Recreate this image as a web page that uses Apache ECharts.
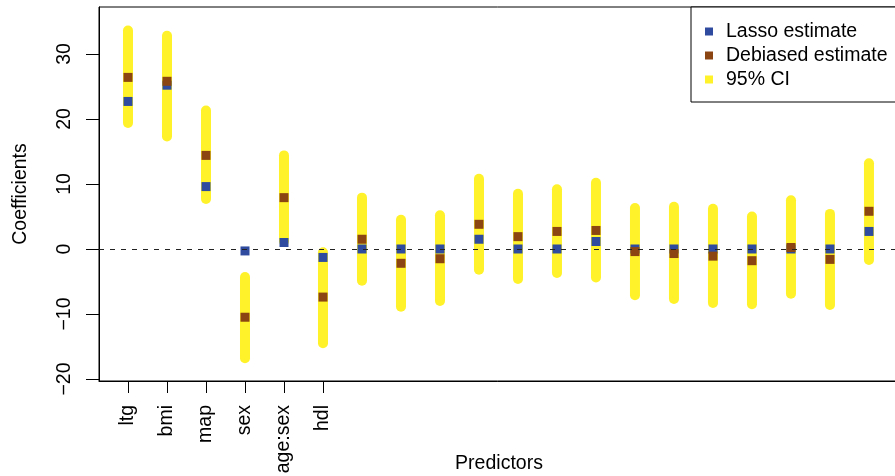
<!DOCTYPE html>
<html>
<head>
<meta charset="utf-8">
<script src="https://cdn.jsdelivr.net/npm/echarts@6/dist/echarts.min.js"></script>
<style>
html,body{margin:0;padding:0;background:#fff;}
#chart{width:895px;height:476px;}
</style>
</head>
<body>
<div id="chart"></div>
<script>
// Predictor positions 1..20; only the first six are labelled
const tickLabels = ["ltg", "bmi", "map", "sex", "age:sex", "hdl"];
const positions = [1,2,3,4,5,6,7,8,9,10,11,12,13,14,15,16,17,18,19,20];
const lassoEst = [22.7, 25.2, 9.6, -0.3, 1.0, -1.3, 0, 0, 0, 1.5, 0, 0, 1.15, 0, 0, 0, 0, 0, 0, 2.7];
const debiasedEst = [26.4, 25.8, 14.4, -10.5, 7.9, -7.4, 1.5, -2.2, -1.5, 3.8, 1.9, 2.7, 2.85, -0.4, -0.7, -1.1, -1.8, 0.23, -1.6, 5.8];
const ciLow = [19.4, 17.3, 7.7, -16.8, 1.2, -14.5, -4.9, -8.9, -8.0, -3.2, -4.6, -3.7, -4.4, -7.1, -7.7, -8.3, -8.5, -6.9, -8.6, -1.7];
const ciHigh = [33.6, 32.8, 21.3, -4.3, 14.4, -0.5, 7.9, 4.5, 5.2, 10.8, 8.5, 9.2, 10.2, 6.3, 6.5, 6.2, 5.0, 7.5, 5.4, 13.2];
const yTicks = [-20, -10, 0, 10, 20, 30];
const xTicks = [1, 2, 3, 4, 5, 6];

const FONT = '"Liberation Sans", Arial, sans-serif';
const FS = 19.5;
const C_LASSO = '#2E4B9F';
const C_DEB = '#8B4513';
const C_CI = '#FFF22A';

const chart = echarts.init(document.getElementById('chart'), null, {renderer: 'canvas'});

const ciData = positions.map((p, i) => [p, ciLow[i], ciHigh[i]]);
const lassoData = positions.map((p, i) => [p, lassoEst[i]]);
const debData = positions.map((p, i) => [p, debiasedEst[i]]);

chart.setOption({
  animation: false,
  backgroundColor: '#fff',
  textStyle: {fontFamily: FONT},
  grid: {left: 99, top: 7, width: 800, height: 374, show: true, borderColor: '#000', borderWidth: 1,
    backgroundColor: 'transparent', containLabel: false, outerBoundsMode: 'none'},
  legend: {
    left: 691, top: 7,
    orient: 'vertical',
    backgroundColor: '#fff',
    borderColor: '#000', borderWidth: 1,
    padding: [14.5, 20, 12.5, 14],
    itemGap: 4,
    itemWidth: 8, itemHeight: 8,
    textStyle: {fontFamily: FONT, fontSize: FS, color: '#000', padding: [0, 0, 0, 8]},
    data: [
      {name: 'Lasso estimate', icon: 'rect'},
      {name: 'Debiased estimate', icon: 'rect'},
      {name: '95% CI', icon: 'rect'}
    ]
  },
  xAxis: {
    type: 'value', min: 0.2564, max: 20.77,
    name: 'Predictors', nameLocation: 'middle', nameGap: 73, nameMoveOverlap: false,
    nameTextStyle: {fontFamily: FONT, fontSize: FS, color: '#000'},
    axisLine: {show: true, onZero: false, lineStyle: {color: '#000', width: 1}},
    axisTick: {show: true, length: 12, inside: false, customValues: xTicks, lineStyle: {color: '#000', width: 1}},
    axisLabel: {show: true, rotate: 90, margin: 24, customValues: xTicks, fontFamily: FONT, fontSize: FS, color: '#000',
      formatter: v => tickLabels[Math.round(v) - 1] || ''},
    splitLine: {show: false}
  },
  yAxis: {
    type: 'value', min: -20.31, max: 37.23,
    name: 'Coefficients', nameLocation: 'middle', nameGap: 68, nameRotate: 90, nameMoveOverlap: false,
    nameTextStyle: {fontFamily: FONT, fontSize: FS, color: '#000'},
    axisLine: {show: true, onZero: false, lineStyle: {color: '#000', width: 1}},
    axisTick: {show: true, length: 13, inside: false, customValues: yTicks, lineStyle: {color: '#000', width: 1}},
    axisLabel: {show: true, rotate: 90, margin: 24, customValues: yTicks, fontFamily: FONT, fontSize: FS, color: '#000',
      formatter: v => String(v).replace('-', '\u2212')},
    splitLine: {show: false}
  },
  series: [
    {
      name: 'zero', type: 'line', data: [], z: 1, silent: true,
      markLine: {
        silent: true, symbol: 'none', animation: false,
        label: {show: false},
        lineStyle: {type: [5, 6], color: '#222', width: 1.2},
        data: [{yAxis: 0}]
      }
    },
    {
      name: '95% CI', type: 'custom', z: 2,
      itemStyle: {color: C_CI},
      data: ciData,
      encode: {x: 0, y: [1, 2]},
      renderItem: function (params, api) {
        const p1 = api.coord([api.value(0), api.value(1)]);
        const p2 = api.coord([api.value(0), api.value(2)]);
        return {
          type: 'line',
          shape: {x1: p1[0], y1: p1[1], x2: p2[0], y2: p2[1]},
          style: {stroke: C_CI, lineWidth: 10, lineCap: 'round'}
        };
      }
    },
    {
      name: 'Lasso estimate', type: 'scatter', z: 3,
      symbol: 'rect', symbolSize: 9,
      itemStyle: {color: C_LASSO, opacity: 1},
      data: lassoData
    },
    {
      name: 'Debiased estimate', type: 'scatter', z: 4,
      symbol: 'rect', symbolSize: 9,
      itemStyle: {color: C_DEB, opacity: 1},
      data: debData
    }
  ]
});
</script>
</body>
</html>
